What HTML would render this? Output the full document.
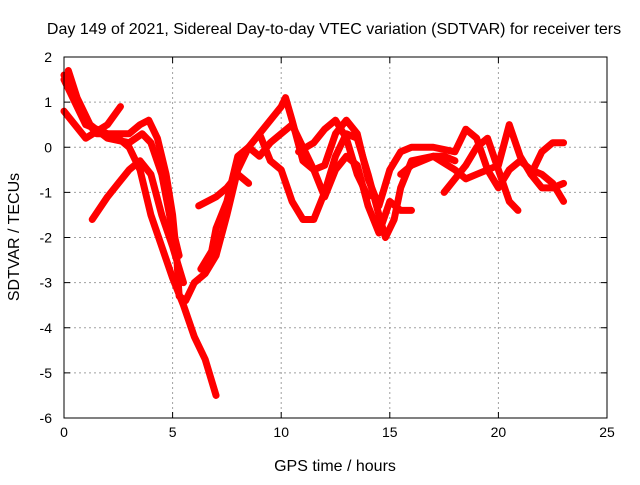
<!DOCTYPE html>
<html><head><meta charset="utf-8"><style>
body{margin:0;background:#fff;width:640px;height:480px;overflow:hidden}
text{font-family:"Liberation Sans",sans-serif;font-size:14px;fill:#000}
</style></head><body>
<svg id="chart" width="640" height="480" xmlns="http://www.w3.org/2000/svg">
<text x="334" y="34" text-anchor="middle" style="font-size:16px">Day 149 of 2021, Sidereal Day-to-day VTEC variation (SDTVAR) for receiver ters</text>
<text x="335" y="471" text-anchor="middle" style="font-size:16px">GPS time / hours</text>
<text transform="translate(19,237) rotate(-90)" text-anchor="middle" style="font-size:16px">SDTVAR / TECUs</text>
<g id="grid"></g><g id="marks"></g><g id="axes"></g>
</svg>
<script>
const xTicks=[0,5,10,15,20,25];
const yTicks=[-6,-5,-4,-3,-2,-1,0,1,2];
const seriesA=[[0,1.6],[0.5,1.2],[1,0.6],[1.5,0.3],[2,0.3],[2.5,0.2],[3,0],[3.5,-0.5],[4,-1.5],[4.5,-2.2],[5,-2.9],[5.5,-3.5],[6,-4.2],[6.5,-4.7],[7,-5.5]];
const seriesB=[[0,1.5],[1,0.5],[2,0.3],[3,0.3],[3.5,0.5],[3.9,0.6],[4.3,0.2],[4.7,-0.6],[5,-1.5],[5.2,-2.5],[5.3,-3.3],[5.6,-3.4],[6,-3],[6.5,-2.8],[7,-2.4],[7.5,-1.5],[8,-0.5],[8.5,0],[9,0.3],[9.5,0.6],[10,0.9],[10.2,1.1],[10.5,0.6],[11,-0.3],[11.5,-0.5],[12,-0.4],[12.5,0.3],[13,0.6],[13.5,0.3],[14,-0.7],[14.5,-1.3],[15,-0.5],[15.5,-0.1],[16,0],[17,0],[18,-0.1],[18.5,0.4],[19,0.2],[19.5,-0.5],[20,-0.9],[20.5,-0.5],[21,-0.3],[21.5,-0.5],[22,-0.6],[22.5,-0.8],[23,-1.2]];
const seriesC=[[1.3,-1.6],[2,-1.1],[2.5,-0.8],[3,-0.5],[3.5,-0.3],[4,-0.6],[4.5,-1.5],[5,-2.2],[5.5,-3.0]];
const seriesC2=[[0,0.8],[1,0.2],[2,0.5],[2.6,0.9]];
const seriesC3=[[0.2,1.7],[0.6,1.1],[1.2,0.5],[2,0.2],[3,0.1],[3.6,0.3],[4,0.1],[4.5,-0.6],[4.9,-1.6],[5.3,-2.4]];
const seriesD=[[6.3,-2.7],[6.8,-2.3],[7,-1.8],[7.5,-1.2],[8,-0.2],[8.5,0],[9,-0.2],[9.5,0.1],[10,0.3],[10.5,0.5],[11,0],[11.5,-0.5],[12,-1.1],[12.5,-0.5],[13,-0.2],[13.5,-0.4],[14,-1.3],[14.5,-1.9],[15,-1.2],[15.5,-1.4],[16,-1.4]];
const seriesE=[[6.2,-1.3],[7,-1.1],[7.5,-0.9],[8,-0.6],[8.5,-0.8]];
const seriesF=[[9,0.3],[9.5,-0.3],[10,-0.5],[10.5,-1.2],[11,-1.6],[11.5,-1.6],[12,-1.0],[12.5,-0.2],[13,0.3],[13.5,0.2],[14,-0.6],[14.5,-1.5],[14.8,-2.0],[15.2,-1.6],[15.5,-0.9],[16,-0.3],[17,-0.2],[18,-0.5],[18.5,-0.7],[19,-0.6],[20,-0.4],[20.5,0.5],[21,-0.2],[21.5,-0.6],[22,-0.1],[22.5,0.1],[23,0.1]];
const seriesG=[[17.5,-1.0],[18,-0.7],[18.5,-0.4],[19,0],[19.5,0.2],[20,-0.5],[20.5,-1.2],[20.9,-1.4]];
const seriesH=[[10.8,-0.1],[11.5,0.1],[12,0.4],[12.5,0.6],[13,0.2],[13.5,-0.6],[14,-1.1]];
const seriesI=[[21.5,-0.6],[22,-0.9],[22.5,-0.9],[23,-0.8]];
const seriesJ=[[15.5,-0.6],[16,-0.4],[16.5,-0.3],[17,-0.2],[17.5,-0.2],[18,-0.3]];
const allSeries=[seriesA,seriesB,seriesC,seriesC2,seriesC3,seriesD,seriesE,seriesF,seriesG,seriesH,seriesI,seriesJ];
const NS="http://www.w3.org/2000/svg";
const L=64,R=607,T=57,B=418;
const xs=v=>L+(v-0)/25*(R-L);
const ys=v=>B-(v+6)/8*(B-T);
const grid=document.getElementById('grid'),axes=document.getElementById('axes'),marks=document.getElementById('marks');
function mk(tag,attrs,parent){const e=document.createElementNS(NS,tag);for(const k in attrs)e.setAttribute(k,attrs[k]);parent.appendChild(e);return e;}
xTicks.forEach(t=>{const x=xs(t);
 if(t>0&&t<25){const g=mk('line',{x1:x,x2:x,y1:T,y2:B,stroke:'#a0a0a0','stroke-dasharray':'2,3'},grid);
 
 }
 mk('line',{x1:x,x2:x,y1:B,y2:B-6,stroke:'#000'},axes);mk('line',{x1:x,x2:x,y1:T,y2:T+6,stroke:'#000'},axes);
 const tx=mk('text',{x:x,y:B+19,'text-anchor':'middle'},axes);tx.textContent=t;
 
 });
yTicks.forEach(t=>{const y=ys(t);
 if(t>-6&&t<2){const g=mk('line',{x1:L,x2:R,y1:y,y2:y,stroke:'#a0a0a0','stroke-dasharray':'2,3'},grid);
 
 }
 mk('line',{x1:L,x2:L+6,y1:y,y2:y,stroke:'#000'},axes);mk('line',{x1:R,x2:R-6,y1:y,y2:y,stroke:'#000'},axes);
 const tx=mk('text',{x:L-12,y:y+5,'text-anchor':'end'},axes);tx.textContent=t;
 
 });
const frame=mk('rect',{x:L,y:T,width:R-L,height:B-T,fill:'none',stroke:'#000'},axes);


allSeries.forEach((s,i)=>{
 const p=mk('polyline',{points:s.map(d=>xs(d[0])+','+ys(d[1])).join(' '),fill:'none',stroke:'#ff0000','stroke-width':7,'stroke-linejoin':'round','stroke-linecap':'round'},marks);
 
 
});
</script>
</body></html>
